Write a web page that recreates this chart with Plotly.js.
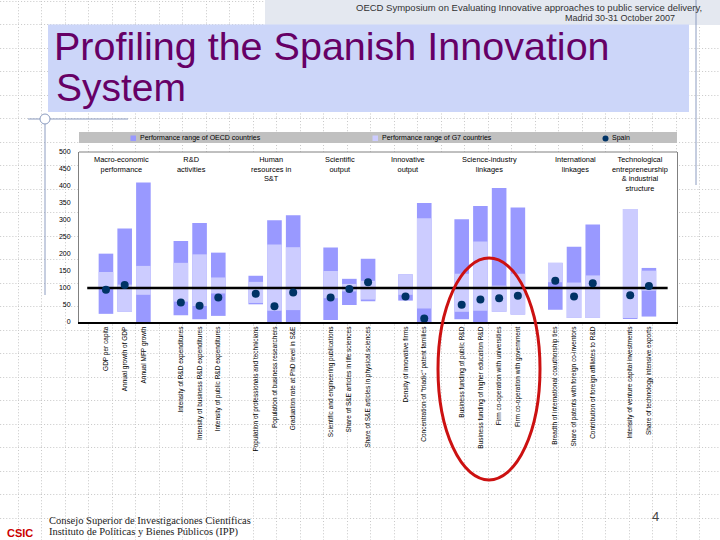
<!DOCTYPE html>
<html>
<head>
<meta charset="utf-8">
<script src="https://cdn.plot.ly/plotly-3.0.1.min.js"></script>
<style>
html,body{margin:0;padding:0;}
body{width:720px;height:540px;overflow:hidden;background-color:#ffffff;
background-image:url("data:image/svg+xml;utf8,<svg xmlns='http://www.w3.org/2000/svg' width='23.5' height='23.5'><path d='M0 0.5H23.5M0.5 0V23.5' stroke='%23c8c8c8' stroke-width='1' stroke-dasharray='1 2' fill='none'/></svg>");
background-size:23.5px 23.5px;background-position:18px 1px;}
#chart{width:720px;height:540px;}
</style>
</head>
<body>
<div id="chart"></div>
<script>
// ---- data ----
const indicators = [
  "GDP per capita",
  "Annual growth of GDP",
  "Annual MFP growth",
  "Intensity of R&D expenditures",
  "Intensity of business R&D expenditures",
  "Intensity of public R&D expenditures",
  "Population of professionals and technicians",
  "Population of business researchers",
  "Graduation rate at PhD level in S&E",
  "Scientific and engineering publications",
  "Share of S&E articles in life sciences",
  "Share of S&E articles in physical sciences",
  "Density of innovative firms",
  "Concentration of \"triadic\" patent families",
  "Business funding of public R&D",
  "Business funding of higher education R&D",
  "Firm co-operation with universities",
  "Firm co-operation with government",
  "Breadth of international coauthorship ties",
  "Share of patents with foreign co-inventors",
  "Contribution of foreign affiliates to R&D",
  "Intensity of venture capital investments",
  "Share of technology intensive exports"
];
const groupOf = [0,0,0, 1,1,1, 2,2,2, 3,3,3, 4,4, 5,5,5,5, 6,6,6, 7,7];
const groupNames = [
  "Macro-economic<br>performance",
  "R&D<br>activities",
  "Human<br>resources in<br>S&T",
  "Scientific<br>output",
  "Innovative<br>output",
  "Science-industry<br>linkages",
  "International<br>linkages",
  "Technological<br>entrepreneurship<br>& industrial<br>structure"
];
const oecdMin = [24, 30, -20, 20, 8, 18, 52, 0, 0, 6, 50, 61, 63, 0, 8, 0, 30, 22, 36, 12, 12, 9, 16];
const oecdMax = [201, 275, 410, 238, 291, 204, 136, 299, 314, 219, 127, 186, 140, 350, 302, 341, 394, 337, 174, 221, 287, 332, 159];
const g7Min   = [97, 30, 80, 60, 47, 84, 56, 33, 35, 70, 90, 66, 80, 40, 30, 33, 30, 22, 117, 12, 12, 12, 92];
const g7Max   = [147, 110, 165, 174, 199, 131, 118, 228, 220, 150, 112, 121, 140, 305, 142, 237, 107, 142, 174, 116, 137, 332, 151];
const spain   = [95, 109, null, 57, 48, 72, 83, 46, 87, 72, 97, 117, 75, 10, 51, 66, 70, 77, 121, 75, 114, 79, 106];
const benchmark = 100;
const yTicks = [0, 50, 100, 150, 200, 250, 300, 350, 400, 450, 500];
const seriesNames = ["Performance range of OECD countries", "Performance range of G7 countries", "Spain"];

// ---- derived positions (one empty slot between groups) ----
const slots = indicators.map((_, i) => i + groupOf[i]);
const groupCenters = groupNames.map((_, g) => {
  const s = slots.filter((_, i) => groupOf[i] === g);
  return s.reduce((a, b) => a + b, 0) / s.length;
});
const groupShift = [-3, -8, -3, -9, -7, 0, 1, 0];

// ---- styles ----
const C_OECD = "#9999FF", C_G7 = "#CCCCFF", C_SPAIN = "#003366";
const FONT = "Liberation Sans, Arial, sans-serif";
const L = 79, R = 677, T = 152, B = 322;
const X = px => (px - L) / (R - L);
const Y = py => (B - py) / (B - T);

const traces = [
  {type: "bar", name: seriesNames[0], x: slots, base: oecdMin,
   y: oecdMax.map((v, i) => v - oecdMin[i]), width: 0.78,
   marker: {color: C_OECD, line: {width: 0}}, hoverinfo: "skip"},
  {type: "bar", name: seriesNames[1], x: slots, base: g7Min,
   y: g7Max.map((v, i) => v - g7Min[i]), width: 0.78,
   marker: {color: C_G7, line: {width: 0}}, hoverinfo: "skip"},
  {type: "scatter", mode: "lines", name: "benchmark",
   x: [slots[0] - 1, slots[slots.length - 1] + 1], y: [benchmark, benchmark],
   line: {color: "#000000", width: 2.5}, hoverinfo: "skip"},
  {type: "scatter", mode: "markers", name: seriesNames[2], x: slots, y: spain,
   marker: {color: C_SPAIN, size: 8, line: {width: 0}}}
];

const shapes = [
  // slide decorations
  {type: "rect", xref: "paper", yref: "paper", x0: X(265), x1: X(720), y0: Y(0), y1: Y(25),
   fillcolor: "#e4e8f0", line: {width: 0}, layer: "below"},
  {type: "rect", xref: "paper", yref: "paper", x0: X(48), x1: X(689), y0: Y(24.5), y1: Y(112),
   fillcolor: "#CCD6F9", line: {width: 0}, layer: "below"},
  {type: "line", xref: "paper", yref: "paper", x0: X(696), x1: X(696), y0: Y(0), y1: Y(185),
   line: {color: "#8c9cc0", width: 1}},
  {type: "line", xref: "paper", yref: "paper", x0: X(28), x1: X(128), y0: Y(119), y1: Y(119),
   line: {color: "#8c9cc0", width: 1}},
  {type: "line", xref: "paper", yref: "paper", x0: X(45), x1: X(45), y0: Y(119), y1: Y(295),
   line: {color: "#8c9cc0", width: 1}},
  {type: "circle", xref: "paper", yref: "paper", x0: X(40), x1: X(50), y0: Y(114), y1: Y(124),
   fillcolor: "#ffffff", line: {color: "#8c9cc0", width: 1}},
  // legend band
  {type: "rect", xref: "paper", yref: "paper", x0: X(79), x1: X(677), y0: Y(132), y1: Y(143),
   fillcolor: "#C0C0C0", line: {width: 0}},
  {type: "rect", xref: "paper", yref: "paper", x0: X(130.5), x1: X(136), y0: Y(135.5), y1: Y(141),
   fillcolor: C_OECD, line: {width: 0}},
  {type: "rect", xref: "paper", yref: "paper", x0: X(372.5), x1: X(378), y0: Y(135.5), y1: Y(141),
   fillcolor: C_G7, line: {width: 0}},
  {type: "circle", xref: "paper", yref: "paper", x0: X(602.5), x1: X(608.5), y0: Y(135.5), y1: Y(141.5),
   fillcolor: C_SPAIN, line: {width: 0}},
  // plot frame top
  {type: "line", xref: "paper", yref: "paper", x0: 0, x1: 1, y0: 1, y1: 1,
   line: {color: "#808080", width: 1}},
  // red ellipse
  {type: "circle", xref: "paper", yref: "paper", x0: X(438), x1: X(540), y0: Y(480), y1: Y(258),
   line: {color: "#cc1111", width: 3}}
];

const annotations = [
  {xref: "paper", yref: "paper", x: X(137.5), y: Y(138.3), xanchor: "left", yanchor: "middle",
   text: seriesNames[0], showarrow: false, font: {family: FONT, size: 7, color: "#000"}},
  {xref: "paper", yref: "paper", x: X(379.5), y: Y(138.3), xanchor: "left", yanchor: "middle",
   text: seriesNames[1], showarrow: false, font: {family: FONT, size: 7, color: "#000"}},
  {xref: "paper", yref: "paper", x: X(609.5), y: Y(138.3), xanchor: "left", yanchor: "middle",
   text: seriesNames[2], showarrow: false, font: {family: FONT, size: 7, color: "#000"}},
  {xref: "paper", yref: "paper", x: X(704), y: Y(7.5), xanchor: "right", yanchor: "middle",
   text: "OECD Symposium on Evaluating Innovative approaches to public service delivery,",
   showarrow: false, font: {family: FONT, size: 9.5, color: "#333"}},
  {xref: "paper", yref: "paper", x: X(677), y: Y(18), xanchor: "right", yanchor: "middle",
   text: "Madrid 30-31 October 2007", showarrow: false, font: {family: FONT, size: 9, color: "#333"}},
  {xref: "paper", yref: "paper", x: X(54), y: Y(87), xanchor: "left", yanchor: "middle",
   text: "System", showarrow: false, font: {family: FONT, size: 39, color: "#660066"}},
  {xref: "paper", yref: "paper", x: X(47), y: Y(520), xanchor: "left", yanchor: "middle",
   text: "Consejo Superior de Investigaciones Científicas", showarrow: false,
   font: {family: "Liberation Serif, serif", size: 10.5, color: "#222"}},
  {xref: "paper", yref: "paper", x: X(47), y: Y(532), xanchor: "left", yanchor: "middle",
   text: "Instituto de Políticas y Bienes Públicos (IPP)", showarrow: false,
   font: {family: "Liberation Serif, serif", size: 10.5, color: "#222"}},
  {xref: "paper", yref: "paper", x: X(655), y: Y(516), xanchor: "center", yanchor: "middle",
   text: "4", showarrow: false, font: {family: FONT, size: 13, color: "#444"}},
  {xref: "paper", yref: "paper", x: X(20), y: Y(533), xanchor: "center", yanchor: "middle",
   text: "<b>CSIC</b>", showarrow: false, font: {family: FONT, size: 11, color: "#cc0000"}}
];
groupNames.forEach((g, k) => {
  annotations.push({xref: "x", yref: "paper", x: groupCenters[k], xshift: groupShift[k], y: 1, yshift: -1,
    xanchor: "center", yanchor: "top", text: g, showarrow: false,
    font: {family: FONT, size: 7.4, color: "#000"}});
});

const layout = {
  width: 720, height: 540,
  margin: {l: L, r: 720 - R, t: T, b: 540 - B, pad: 0},
  paper_bgcolor: "rgba(0,0,0,0)", plot_bgcolor: "#ffffff",
  barmode: "overlay", showlegend: false, hovermode: false,
  title: {text: "Profiling the Spanish Innovation", xref: "container", yref: "container",
          x: 54 / 720, xanchor: "left", y: 1 - 46 / 540, yanchor: "middle",
          font: {family: FONT, size: 39.5, color: "#660066"}},
  xaxis: {range: [-1.44, 30.5], tickmode: "array", tickvals: slots, ticktext: indicators,
          tickangle: -90, tickfont: {family: FONT, size: 6.5, color: "#000"},
          showline: true, linecolor: "#000", linewidth: 2, ticks: "", showgrid: false,
          zeroline: false, automargin: false, fixedrange: true},
  yaxis: {range: [0, 500], tickmode: "array", tickvals: yTicks, showgrid: false, zeroline: false,
          showline: true, mirror: true, linecolor: "#808080", linewidth: 1, ticks: "",
          ticklabelstandoff: 6, tickfont: {family: FONT, size: 7, color: "#000"},
          automargin: false, fixedrange: true},
  shapes: shapes,
  annotations: annotations
};

Plotly.newPlot("chart", traces, layout, {displayModeBar: false, staticPlot: true});
</script>
</body>
</html>
